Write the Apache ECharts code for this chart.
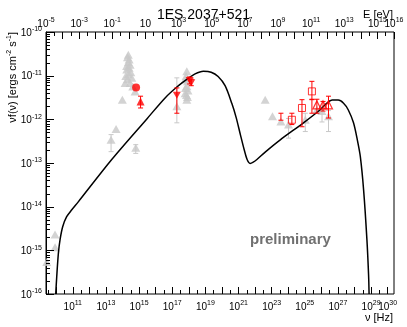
<!DOCTYPE html>
<html>
<head>
<meta charset="utf-8">
<script src="https://cdn.jsdelivr.net/npm/echarts@6/dist/echarts.min.js"></script>
<style>
  html, body { margin: 0; padding: 0; background: #fff; }
  #chart { width: 407px; height: 327px; }
</style>
</head>
<body>
<div id="chart"></div>
<script>
// all values are log10: nu in Hz, nuF(nu) in erg cm^-2 s^-1
const modelLogNu = [9.97, 10.03, 10.13, 10.23, 10.39, 10.63, 10.94, 11.33, 13.35, 15.47, 16.57, 17.28, 17.90,
  18.38, 18.88, 19.35, 19.77, 20.19, 20.60, 20.86, 21.10, 21.34, 21.52, 21.70, 21.89, 22.11, 22.61, 23.52,
  24.92, 25.93, 26.30, 26.66, 27.02, 27.34, 27.62, 27.94, 28.17, 28.35, 28.55, 28.75, 28.85, 28.88];
const modelLogFlux = [-16.0, -15.61, -15.07, -14.76, -14.46, -14.23, -14.07, -13.89, -12.92, -11.99, -11.51, -11.26, -11.08,
  -10.96, -10.90, -10.92, -11.02, -11.23, -11.64, -11.96, -12.33, -12.69, -12.92, -13.01, -12.98, -12.92, -12.75, -12.47,
  -12.08, -11.78, -11.64, -11.56, -11.56, -11.63, -11.78, -12.08, -12.47, -12.85, -13.62, -14.76, -15.57, -16.0];

// archival data (grey triangles)
const greyLogNu = [9.93, 9.93, 9.43,
  14.35, 14.30, 14.40, 14.35, 14.46, 14.25, 14.40, 14.26, 14.50, 14.35, 14.20, 14.56, 14.30, 14.16, 14.46, 14.62,
  14.76, 13.99, 13.61, 13.31, 14.80,
  17.88, 17.84, 17.78, 17.92, 17.88, 17.80, 17.95, 17.78, 17.86, 17.92, 17.88, 17.28,
  22.61, 23.05, 23.56, 24.02, 25.03, 25.73, 26.04, 26.43];
const greyLogFlux = [-14.64, -14.93, -15.27,
  -10.52, -10.58, -10.63, -10.69, -10.75, -10.78, -10.82, -10.86, -10.92, -10.97, -11.01, -11.05, -11.08, -11.17, -11.17, -11.25,
  -11.36, -11.55, -12.22, -12.47, -12.65,
  -10.90, -11.01, -11.09, -11.13, -11.24, -11.28, -11.34, -11.40, -11.44, -11.49, -11.55, -11.70,
  -11.55, -11.93, -12.05, -12.12, -12.01, -11.78, -11.81, -11.93];
// [logNu, low, high]
const greyErrors = [[13.31, -12.74, -12.35], [14.80, -12.78, -12.58], [17.28, -12.08, -11.05],
  [24.02, -12.43, -11.98], [25.03, -12.28, -11.86], [26.04, -12.06, -11.70], [26.43, -12.28, -11.80]];

// simultaneous data (red)
const redCircle = [[14.82, -11.27]];
const redUp = [[15.09, -11.59]];
const redDown = [[17.28, -11.45], [18.05, -11.11], [18.15, -11.16]];
const redSquares = [[24.22, -12.01], [24.83, -11.74], [25.43, -11.36]];
const redOpenTri = [[25.73, -11.67], [26.10, -11.67], [26.43, -11.67]];
const redErrors = [[15.09, -11.74, -11.47], [17.28, -11.86, -11.28], [18.05, -11.19, -11.03], [18.15, -11.23, -11.08],
  [23.56, -12.02, -11.86], [24.22, -12.12, -11.86], [24.83, -12.17, -11.55], [25.43, -11.55, -11.13],
  [25.43, -11.86, -11.54], [25.73, -11.86, -11.54], [26.10, -11.81, -11.59], [26.43, -11.97, -11.47]];

// axes
const H_EV = 4.1357e-15;
const eMin = -5, eMax = 16;
const nuMin = eMin - Math.log10(H_EV);
const nuMax = eMax - Math.log10(H_EV);
const nuTicks = [10, 11, 12, 13, 14, 15, 16, 17, 18, 19, 20, 21, 22, 23, 24, 25, 26, 27, 28, 29, 30];
const nuLabels = [11, 13, 15, 17, 19, 21, 23, 25, 27, 29];
const nuLabelsEnd = [30];
const eTicks = [-5, -4, -3, -2, -1, 0, 1, 2, 3, 4, 5, 6, 7, 8, 9, 10, 11, 12, 13, 14, 15, 16];
const eLabels = [-5, -3, -1, 1, 3, 5, 7, 9, 11, 13, 15];
const eLabelsEnd = [16];
const fluxTicks = [-16, -15, -14, -13, -12, -11, -10];

const FONT = "'Liberation Sans', Arial, sans-serif";
const rich = {
  b: { fontSize: 10, fontFamily: FONT, color: '#000', verticalAlign: 'bottom' },
  s: { fontSize: 7, fontFamily: FONT, color: '#000', verticalAlign: 'bottom', padding: [0, 0, 5, 0] }
};

function pow10(v) {
  const e = Math.round(v);
  if (e === 0) return '{b|1}';
  if (e === 1) return '{b|10}';
  return '{b|10}{s|' + e + '}';
}

function halves(a, b) {
  const out = [];
  for (let v = a; v <= b; v++) out.push(v + 0.5);
  return out;
}

function logMinors(a, b) {
  const out = [];
  for (let d = a; d < b; d++) {
    for (let k = 2; k <= 9; k++) out.push(d + Math.log10(k));
  }
  return out;
}

function errorSeries(list, color) {
  return {
    type: 'custom',
    xAxisIndex: 0,
    yAxisIndex: 0,
    data: list,
    encode: { x: 0, y: [1, 2] },
    silent: true,
    renderItem: function (params, api) {
      const top = api.coord([api.value(0), api.value(2)]);
      const bot = api.coord([api.value(0), api.value(1)]);
      const w = 2.5;
      const st = { stroke: color, lineWidth: 1 };
      return {
        type: 'group',
        children: [
          { type: 'line', shape: { x1: top[0], y1: top[1], x2: bot[0], y2: bot[1] }, style: st },
          { type: 'line', shape: { x1: top[0] - w, y1: top[1], x2: top[0] + w, y2: top[1] }, style: st },
          { type: 'line', shape: { x1: bot[0] - w, y1: bot[1], x2: bot[0] + w, y2: bot[1] }, style: st }
        ]
      };
    }
  };
}

// left-edge ticks (ROOT style, pointing inward), placed through the y scale
function yTickSeries(values, len) {
  return {
    type: 'custom',
    xAxisIndex: 0,
    yAxisIndex: 0,
    data: values.map((v) => [nuMin, v]),
    encode: { x: 0, y: 1 },
    silent: true,
    z: 6,
    renderItem: function (params, api) {
      const p = api.coord([api.value(0), api.value(1)]);
      const y = Math.round(p[1]) + 0.5;
      return {
        type: 'line',
        shape: { x1: p[0], y1: y, x2: p[0] + len, y2: y },
        style: { stroke: '#000', lineWidth: 1 }
      };
    }
  };
}

const chart = echarts.init(document.getElementById('chart'));

const tickAxisX = (pos, values, len, labelValues, min, max) => ({
  type: 'value',
  position: pos,
  min: min,
  max: max,
  splitLine: { show: false },
  axisLine: { show: false, onZero: false },
  axisTick: { show: true, inside: true, length: len, customValues: values, lineStyle: { color: '#000', width: 1 } },
  axisLabel: labelValues
    ? { show: true, customValues: labelValues, formatter: pow10, rich: rich, margin: pos === 'top' ? 3 : 6 }
    : { show: false }
});

const option = {
  animation: false,
  backgroundColor: '#fff',
  title: {
    text: '1ES 2037+521',
    left: 'center',
    top: 3,
    textStyle: { fontFamily: FONT, fontSize: 14, fontWeight: 'normal', color: '#000' }
  },
  grid: {
    left: 46, right: 13, top: 32, bottom: 33,
    show: true, borderColor: '#000', borderWidth: 1,
    containLabel: false, outerBoundsMode: 'none'
  },
  xAxis: [
    tickAxisX('bottom', nuTicks, 7, nuLabels, nuMin, nuMax),
    tickAxisX('top', eTicks, 7, eLabels, eMin, eMax),
    tickAxisX('bottom', halves(9, 29), 4, nuLabelsEnd, nuMin, nuMax),
    tickAxisX('top', halves(-5, 15), 4, eLabelsEnd, eMin, eMax)
  ],
  yAxis: [
    {
      type: 'value', position: 'left', min: -16, max: -10,
      splitLine: { show: false },
      axisLine: { show: true, onZero: false, lineStyle: { color: '#000' } },
      axisTick: { show: false },
      axisLabel: { show: true, customValues: fluxTicks, formatter: pow10, rich: rich, margin: 4 }
    }
  ],
  graphic: [
    {
      type: 'text', x: 393, y: 9,
      style: { text: 'E [eV]', fontFamily: FONT, fontSize: 11, fill: '#000', align: 'right', verticalAlign: 'top' }
    },
    {
      type: 'text', x: 393, y: 312,
      style: { text: 'ν [Hz]', fontFamily: FONT, fontSize: 11, fill: '#000', align: 'right', verticalAlign: 'top' }
    },
    {
      type: 'text', x: 12, y: 32, rotation: Math.PI / 2,
      style: {
        text: '{t|νf(ν) [ergs cm}{u|-2}{t| s}{u|-1}{t|]}',
        align: 'right', verticalAlign: 'middle',
        rich: {
          t: { fontFamily: FONT, fontSize: 11, fill: '#000', verticalAlign: 'bottom' },
          u: { fontFamily: FONT, fontSize: 7, fill: '#000', verticalAlign: 'bottom', padding: [0, 0, 5, 0] }
        }
      }
    },
    {
      type: 'text', x: 250, y: 240,
      style: { text: 'preliminary', fontFamily: FONT, fontSize: 15, fontWeight: 'bold', fill: '#707070', verticalAlign: 'middle' }
    }
  ],
  series: [
    yTickSeries(fluxTicks, 8),
    yTickSeries(logMinors(-16, -10), 4),
    errorSeries(greyErrors, '#c8c8c8'),
    {
      type: 'scatter', name: 'archival',
      data: greyLogNu.map((x, i) => [x, greyLogFlux[i]]),
      symbol: 'triangle', symbolSize: [9, 8],
      itemStyle: { color: '#c8c8c8' }, silent: true
    },
    {
      type: 'line', name: 'model',
      data: modelLogNu.map((x, i) => [x, modelLogFlux[i]]),
      showSymbol: false, smooth: 0.3, clip: true,
      lineStyle: { color: '#000', width: 1.5 }, z: 3, silent: true
    },
    Object.assign(errorSeries(redErrors, '#ff0000'), { z: 4 }),
    {
      type: 'scatter', data: redCircle, symbol: 'circle', symbolSize: 8,
      itemStyle: { color: '#ff0000' }, z: 5, silent: true
    },
    {
      type: 'scatter', data: redUp, symbol: 'triangle', symbolSize: [8, 8],
      itemStyle: { color: '#ff0000' }, z: 5, silent: true
    },
    {
      type: 'scatter', data: redDown, symbol: 'triangle', symbolSize: [8, 7], symbolRotate: 180,
      itemStyle: { color: '#ff0000' }, z: 5, silent: true
    },
    {
      type: 'scatter', data: redSquares, symbol: 'rect', symbolSize: 7,
      itemStyle: { color: 'rgba(255,255,255,0)', borderColor: '#ff0000', borderWidth: 1 }, z: 5, silent: true
    },
    {
      type: 'scatter', data: redOpenTri, symbol: 'triangle', symbolSize: [8, 8],
      itemStyle: { color: 'rgba(255,255,255,0)', borderColor: '#ff0000', borderWidth: 1.2 }, z: 5, silent: true
    }
  ]
};

chart.setOption(option);
window.addEventListener('resize', () => chart.resize());
</script>
</body>
</html>
